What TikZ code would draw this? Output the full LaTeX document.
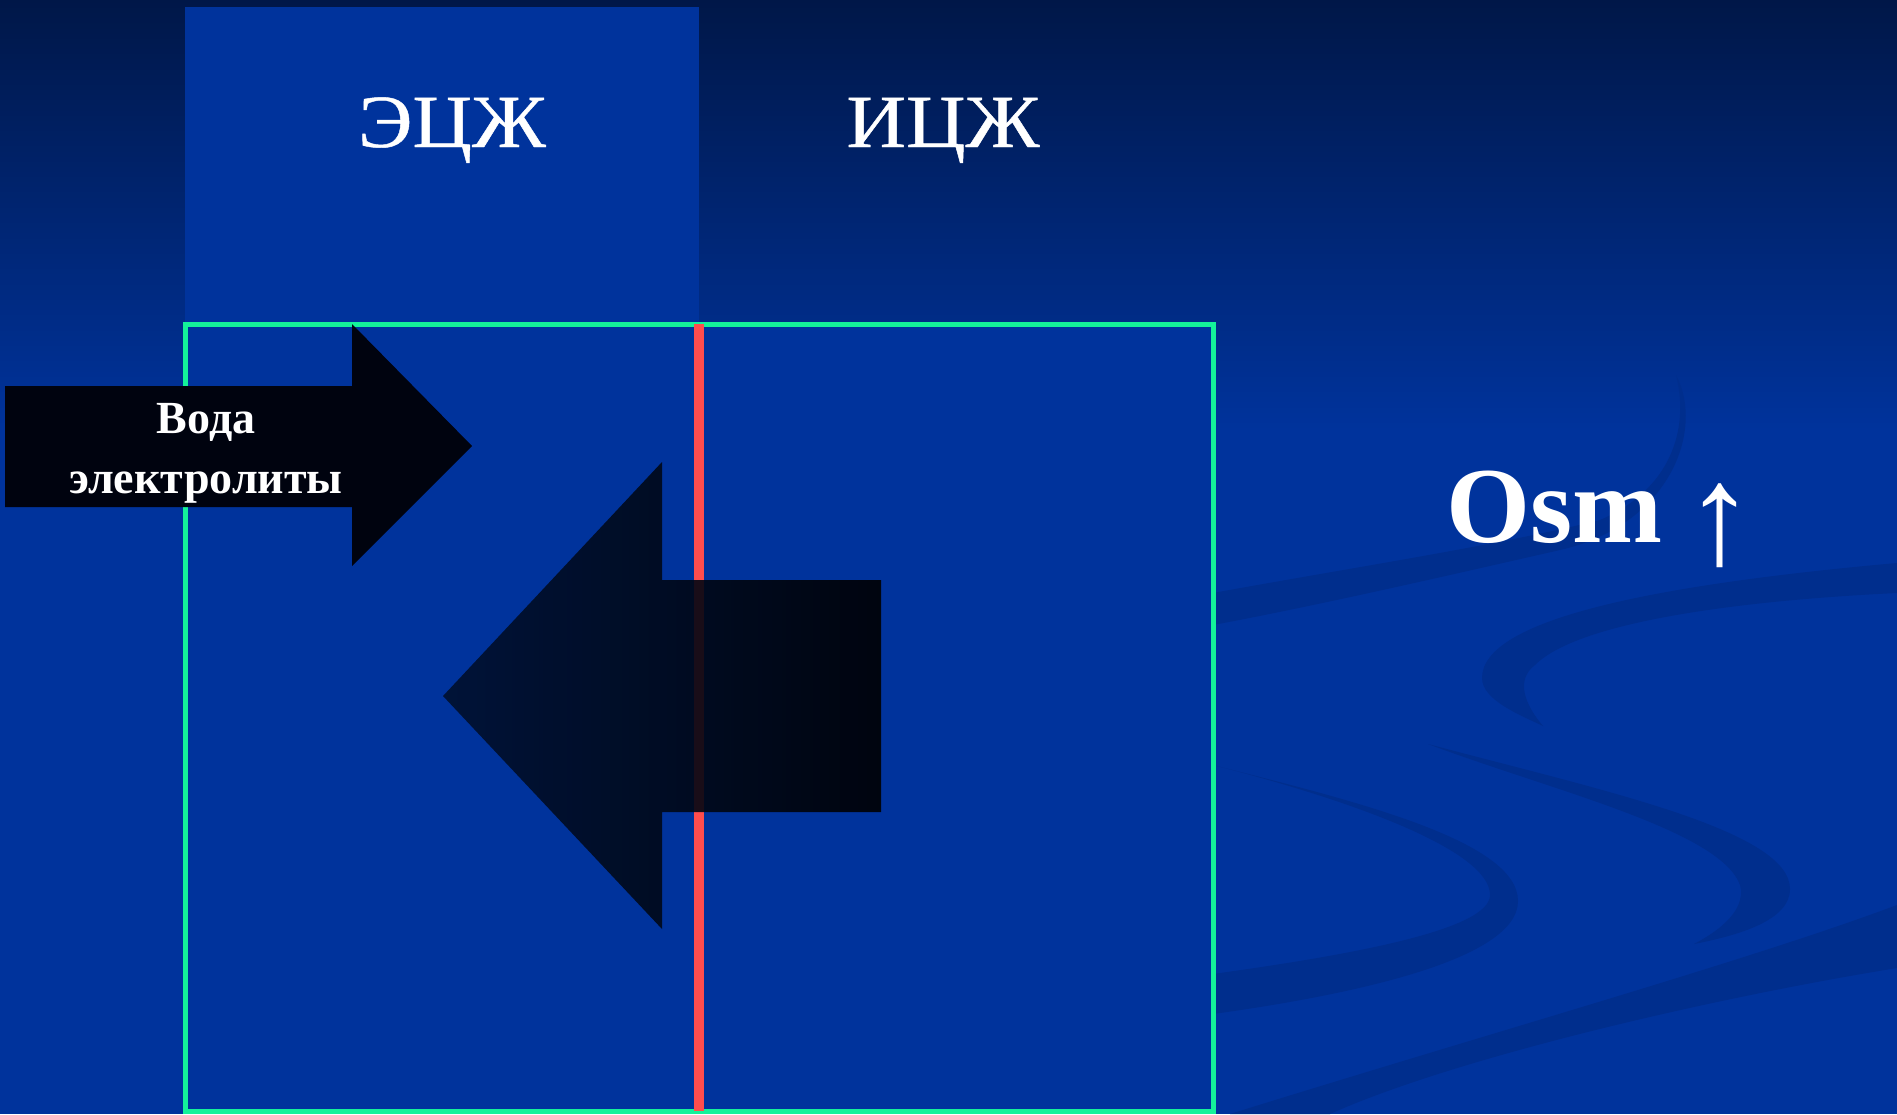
\documentclass[tikz,border=0pt]{standalone}
\usepackage{fontspec}
\setmainfont{Liberation Serif}
\newfontfamily\widefont[FakeStretch=1.1,FakeBold=0.6]{Liberation Serif}
\definecolor{bgtop}{RGB}{0,23,72}
\definecolor{bgblue}{RGB}{0,51,156}
\definecolor{swirl}{RGB}{0,46,141}
\definecolor{mint}{RGB}{20,242,154}
\definecolor{coral}{RGB}{255,77,77}
\definecolor{arrowblue}{RGB}{0,16,46}
\definecolor{arrowdark}{RGB}{0,3,15}
\tikzset{
  swirlband/.style={fill=swirl},
  panel/.style={fill=bgblue},
  label/.style={text=white, inner sep=0pt},
}
\begin{document}
\begin{tikzpicture}[x=1pt,y=-1pt]
\useasboundingbox (0,0) rectangle (1897,1114);
% background
\fill[bgblue] (0,0) rectangle (1897,1114);
\shade[top color=bgtop, bottom color=bgblue] (0,0) rectangle (1897,430);
% decorative swirls
\fill[swirlband] (1213,593) .. controls (1350,568) and (1500,545) .. (1600,520)
  .. controls (1670,490) and (1690,430) .. (1676,375)
  .. controls (1705,430) and (1670,525) .. (1560,550)
  .. controls (1450,575) and (1320,605) .. (1213,625) -- cycle;
\fill[swirlband] (1897,563) .. controls (1650,585) and (1482,620) .. (1482,678)
  .. controls (1482,700) and (1520,715) .. (1543,726)
  .. controls (1525,705) and (1515,680) .. (1535,665)
  .. controls (1580,620) and (1750,600) .. (1897,593) -- cycle;
\fill[swirlband] (1213,765) .. controls (1350,800) and (1518,840) .. (1518,901)
  .. controls (1518,960) and (1350,995) .. (1213,1014) -- (1213,974)
  .. controls (1350,955) and (1490,930) .. (1490,895)
  .. controls (1490,850) and (1350,800) .. (1213,765) -- cycle;
\fill[swirlband] (1428,744) .. controls (1600,790) and (1790,830) .. (1790,889)
  .. controls (1790,920) and (1740,935) .. (1694,944)
  .. controls (1730,925) and (1745,905) .. (1740,885)
  .. controls (1720,830) and (1550,790) .. (1428,744) -- cycle;
\fill[swirlband] (1230,1114) .. controls (1500,1030) and (1750,960) .. (1897,905)
  -- (1897,968) .. controls (1700,1000) and (1450,1060) .. (1330,1114) -- cycle;
% upper ECF panel
\fill[panel] (185,7) rectangle (699,324);
% compartments box
\draw[panel, draw=mint, line width=5pt] (185,324) rectangle (1213,1111);
% membrane
\coordinate (memtop) at (699,324);
\coordinate (membot) at (699,1111);
\draw[coral, line width=10pt] (memtop) -- (membot);
% right-pointing arrow
\fill[arrowdark] (5,386) -- (352,386) -- (352,324) -- (472,446) -- (352,566) -- (352,507) -- (5,507) -- cycle;
% left-pointing arrow
\shade[left color=arrowblue, right color=black, opacity=0.9]
  (443,696) -- (662,462) -- (662,580) -- (881,580) -- (881,812) -- (662,812) -- (662,929) -- cycle;
% texts
\node[label, font=\widefont\fontsize{75}{80}\selectfont, anchor=base] (ecf) at (452,147) {ЭЦЖ};
\node[label, font=\widefont\fontsize{75}{80}\selectfont, anchor=base] (icf) at (943,147) {ИЦЖ};
\node[label, font=\bfseries\fontsize{46}{60}\selectfont, align=center, anchor=base] (water) at (206,493) {Вода\\электролиты};
\node[label, font=\fontsize{108}{110}\selectfont, anchor=base west] (osm) at (1446,542)
  {\textbf{Osm}\hspace{22pt}\raisebox{-21pt}{\fontsize{142}{142}\selectfont ↑}};
\end{tikzpicture}
\end{document}
